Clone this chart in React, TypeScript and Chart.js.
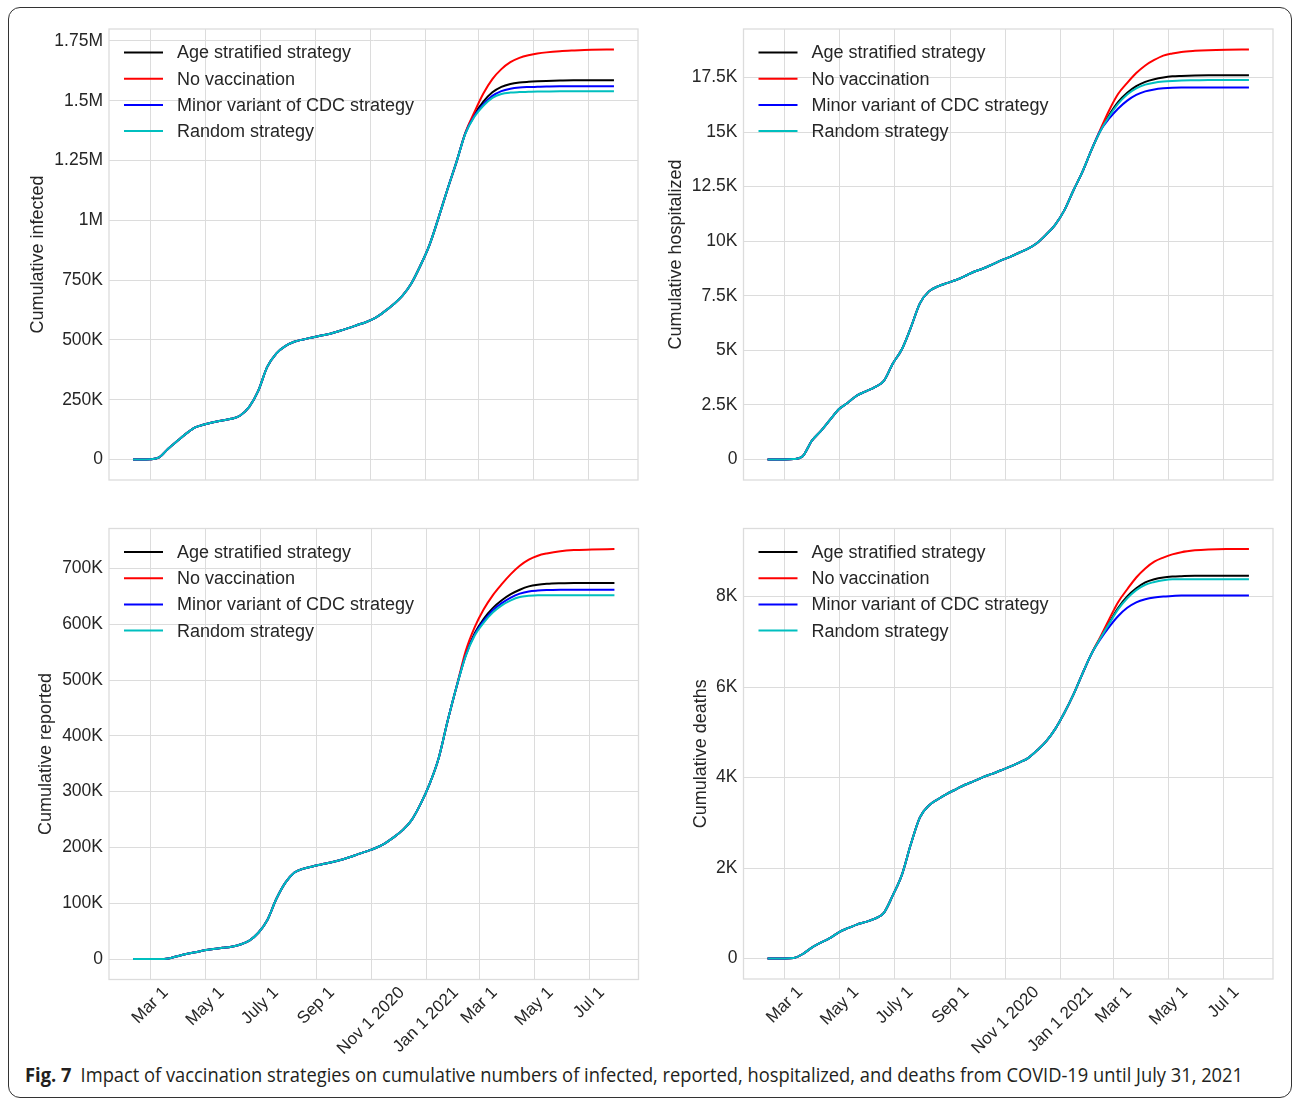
import React, { useEffect, useRef } from "react";
import { Chart, registerables } from "chart.js";

Chart.register(...registerables);

const FONT = '"Liberation Sans", Arial, Helvetica, sans-serif';
const TEXT = "#262626";
const GRID = "#dcdcdc";

// Day numbers counted from Jan 1 2020 (day 0)
const sharedDays = [41, 50, 60, 70, 80, 90, 100, 110, 120, 130, 140, 150, 160, 170, 180, 190, 200, 210, 220, 230, 240, 250, 260, 270, 280, 290, 300, 310, 320, 330, 340, 350, 360, 370, 380, 390, 400];
const tailDays = [410, 420, 430, 440, 450, 460, 470, 480, 490, 500, 515, 530, 550, 575];

const strategyLabels = ["Age stratified strategy", "No vaccination", "Minor variant of CDC strategy", "Random strategy"];
const strategyColors = ["#000000", "#ff0000", "#0000ff", "#00bfbf"];

const xTickDays = [60, 121, 182, 244, 305, 366, 425, 486, 547];
const xTickLabels = ["Mar 1", "May 1", "July 1", "Sep 1", "Nov 1 2020", "Jan 1 2021", "Mar 1", "May 1", "Jul 1"];

// Cumulative infected (thousands)
const infectedShared = [0, 0, 1, 9, 45, 77, 108, 134, 146, 156, 163, 170, 184, 220, 287, 387, 443, 474, 492, 502, 510, 518, 526, 537, 549, 562, 575, 592, 618, 648, 684, 736, 810, 895, 1008, 1128, 1242];
const infectedAge = [1364, 1442, 1496, 1535, 1558, 1570, 1576, 1579, 1581, 1582.5, 1584, 1585, 1585, 1585];
const infectedNone = [1366, 1452, 1530, 1590, 1632, 1661, 1679, 1690, 1697, 1702, 1707, 1710, 1713, 1714];
const infectedCdc = [1363, 1436, 1484, 1520, 1540, 1550, 1555, 1557, 1558, 1559, 1560, 1560, 1560, 1560];
const infectedRandom = [1362, 1433, 1479, 1512, 1528, 1534, 1536, 1537, 1538, 1538.5, 1539, 1539, 1539, 1539];
const infectedTicks = [0, 250, 500, 750, 1000, 1250, 1500, 1750];

// Cumulative hospitalized (thousands)
const hospShared = [0, 0, 0, 0.02, 0.15, 0.85, 1.3, 1.8, 2.3, 2.6, 2.93, 3.12, 3.32, 3.6, 4.4, 5.05, 6.05, 7.15, 7.7, 7.93, 8.08, 8.22, 8.4, 8.6, 8.75, 8.93, 9.12, 9.28, 9.47, 9.66, 9.92, 10.3, 10.75, 11.4, 12.3, 13.15, 14.15];
const hospAge = [15.05, 15.78, 16.38, 16.8, 17.1, 17.3, 17.42, 17.5, 17.55, 17.57, 17.59, 17.6, 17.6, 17.6];
const hospNone = [15.1, 16.0, 16.75, 17.25, 17.7, 18.05, 18.3, 18.5, 18.6, 18.67, 18.72, 18.75, 18.77, 18.78];
const hospCdc = [15.05, 15.62, 16.08, 16.44, 16.7, 16.86, 16.95, 17.0, 17.03, 17.04, 17.04, 17.04, 17.04, 17.04];
const hospRandom = [15.03, 15.72, 16.3, 16.72, 17.0, 17.17, 17.26, 17.31, 17.34, 17.36, 17.37, 17.38, 17.38, 17.38];
const hospTicks = [0, 2.5, 5, 7.5, 10, 12.5, 15, 17.5];

// Cumulative reported (thousands)
const reportedShared = [0, 0, 0, 0, 1, 5, 9, 12, 15.5, 18, 20, 22, 26, 33, 47, 70, 108, 137, 155, 162, 166, 169.5, 173, 177, 182, 187.5, 193, 199, 207, 218, 231, 249, 278, 314, 360, 427, 489];
const reportedAge = [545, 584, 610, 629, 643, 654, 662, 668, 671, 672.5, 673.5, 674, 674, 674];
const reportedNone = [552, 595, 627, 652, 672, 690, 705, 716, 723, 727, 731, 733, 734, 735];
const reportedCdc = [544, 582, 606, 625, 638, 648, 655, 659, 660.5, 661.3, 662, 662, 662, 662];
const reportedRandom = [543, 580, 603, 621, 634, 643, 649, 651, 652, 652, 652, 652, 652, 652];
const reportedTicks = [0, 100, 200, 300, 400, 500, 600, 700];

// Cumulative deaths (thousands)
const deathsShared = [0, 0, 0, 0.01, 0.1, 0.24, 0.35, 0.45, 0.58, 0.67, 0.75, 0.81, 0.88, 1.01, 1.4, 1.85, 2.53, 3.12, 3.38, 3.52, 3.64, 3.74, 3.84, 3.92, 4.01, 4.08, 4.16, 4.24, 4.33, 4.43, 4.6, 4.8, 5.07, 5.42, 5.82, 6.28, 6.72];
const deathsAge = [7.08, 7.42, 7.75, 8.0, 8.18, 8.31, 8.38, 8.42, 8.44, 8.45, 8.46, 8.46, 8.46, 8.46];
const deathsNone = [7.1, 7.5, 7.88, 8.16, 8.42, 8.62, 8.77, 8.86, 8.93, 8.98, 9.02, 9.04, 9.05, 9.05];
const deathsCdc = [7.05, 7.33, 7.57, 7.75, 7.87, 7.94, 7.98, 8.0, 8.01, 8.02, 8.02, 8.02, 8.02, 8.02];
const deathsRandom = [7.07, 7.4, 7.72, 7.96, 8.14, 8.26, 8.32, 8.36, 8.38, 8.38, 8.38, 8.38, 8.38, 8.38];
const deathsTicks = [0, 2, 4, 6, 8];

const fmtMK = (v: number) => (v === 0 ? "0" : v >= 1000 ? `${v / 1000}M` : `${v}K`);
const fmtK = (v: number) => (v === 0 ? "0" : `${v}K`);

type Rect = { left: number; top: number; width: number; height: number };
type Area = { left: number; top: number; right: number; bottom: number };

interface PanelProps {
  title: string;
  shared: number[];
  tails: number[][];
  yTicks: number[];
  fmt: (v: number) => string;
  showX: boolean;
  canvas: Rect;
  area: Area;
  titleX: number;
}

function Panel(p: PanelProps) {
  const ref = useRef<HTMLCanvasElement>(null);
  useEffect(() => {
    const el = ref.current!;
    const allDays = sharedDays.concat(tailDays);
    const all: number[] = [];
    const datasets = strategyLabels.map((label, i) => {
      const vals = p.shared.concat(p.tails[i]);
      all.push(...vals);
      return {
        label,
        data: allDays.map((d, j) => ({ x: d, y: vals[j] })),
        borderColor: strategyColors[i],
        backgroundColor: strategyColors[i],
        borderWidth: 2,
        pointRadius: 0,
        pointHoverRadius: 0,
        cubicInterpolationMode: "monotone",
        fill: false,
        order: strategyLabels.length - i,
      };
    });
    const vMax = Math.max(...all);
    const vMin = Math.min(...all);
    const ySpan = vMax - vMin;
    const dMin = allDays[0];
    const dMax = allDays[allDays.length - 1];
    const xSpan = dMax - dMin;
    const canvasRight = p.canvas.left + p.canvas.width;
    const canvasBottom = p.canvas.top + p.canvas.height;

    const decor = {
      id: "decor",
      beforeDatasetsDraw(chart: any) {
        const { ctx, chartArea: a } = chart;
        ctx.save();
        ctx.strokeStyle = GRID;
        ctx.lineWidth = 1.3;
        ctx.strokeRect(a.left, a.top, a.right - a.left, a.bottom - a.top);
        ctx.restore();
      },
      afterDatasetsDraw(chart: any) {
        const { ctx, chartArea: a } = chart;
        ctx.save();
        ctx.font = `18px ${FONT}`;
        ctx.textBaseline = "middle";
        ctx.textAlign = "left";
        chart.data.datasets.forEach((ds: any, i: number) => {
          const y = a.top + 23.5 + 26.2 * i;
          ctx.strokeStyle = ds.borderColor;
          ctx.lineWidth = 2;
          ctx.beginPath();
          ctx.moveTo(a.left + 15, y);
          ctx.lineTo(a.left + 54, y);
          ctx.stroke();
          ctx.fillStyle = TEXT;
          ctx.fillText(ds.label, a.left + 68, y + 1);
        });
        if (p.showX) {
          const xs = chart.scales.x;
          ctx.font = `17px ${FONT}`;
          ctx.textAlign = "center";
          ctx.fillStyle = TEXT;
          xTickDays.forEach((d, i) => {
            const label = xTickLabels[i];
            const w = ctx.measureText(label).width;
            const side = (w + 13) * Math.SQRT1_2;
            const cx = xs.getPixelForValue(d);
            const cy = a.bottom + 6 + side / 2;
            ctx.save();
            ctx.translate(cx, cy);
            ctx.rotate(-Math.PI / 4);
            ctx.fillText(label, 0, 0);
            ctx.restore();
          });
        }
        ctx.restore();
      },
    };

    const chart = new Chart(el, {
      type: "line",
      data: { datasets } as any,
      options: {
        animation: false,
        responsive: false,
        maintainAspectRatio: false,
        events: [],
        layout: {
          padding: {
            left: 0,
            top: p.area.top - p.canvas.top,
            right: canvasRight - p.area.right,
            bottom: 0,
          },
        },
        plugins: { legend: { display: false }, tooltip: { enabled: false } },
        scales: {
          x: {
            type: "linear",
            min: dMin - 0.05 * xSpan,
            max: dMax + 0.05 * xSpan,
            afterBuildTicks: (s: any) => {
              s.ticks = xTickDays.map((v) => ({ value: v }));
            },
            afterFit: (s: any) => {
              s.height = canvasBottom - p.area.bottom;
              s.paddingLeft = 0;
              s.paddingRight = 0;
            },
            ticks: { display: false },
            grid: { color: GRID, lineWidth: 1, drawTicks: false },
            border: { display: false },
          },
          y: {
            type: "linear",
            min: vMin - 0.05 * ySpan,
            max: vMax + 0.05 * ySpan,
            afterBuildTicks: (s: any) => {
              s.ticks = p.yTicks.map((v) => ({ value: v }));
            },
            afterFit: (s: any) => {
              s.width = p.area.left - p.canvas.left;
              s.paddingTop = 0;
              s.paddingBottom = 0;
            },
            ticks: {
              callback: (v: any) => p.fmt(Number(v)),
              font: { family: FONT, size: 17.5 },
              color: TEXT,
              padding: 6,
            },
            grid: { color: GRID, lineWidth: 1, drawTicks: false },
            border: { display: false },
            title: {
              display: true,
              text: p.title,
              font: { family: FONT, size: 18 },
              color: TEXT,
              padding: { top: p.titleX - p.canvas.left - 10.8, bottom: 0 },
            },
          },
        },
      } as any,
      plugins: [decor],
    });
    return () => chart.destroy();
  }, []);
  return (
    <canvas
      ref={ref}
      width={p.canvas.width}
      height={p.canvas.height}
      style={{ position: "absolute", left: p.canvas.left, top: p.canvas.top, width: p.canvas.width, height: p.canvas.height }}
    />
  );
}

function Caption() {
  const ref = useRef<HTMLDivElement>(null);
  useEffect(() => {
    const el = ref.current!;
    const w = el.getBoundingClientRect().width;
    el.style.transform = `scaleX(${1218 / w})`;
  }, []);
  return (
    <div
      ref={ref}
      style={{
        position: "absolute",
        left: 25,
        top: 1061,
        whiteSpace: "nowrap",
        fontFamily: '"Open Sans", "Noto Sans", sans-serif',
        fontSize: 20,
        lineHeight: "28px",
        color: "#231f20",
        transformOrigin: "0 0",
      }}
    >
      <b style={{ marginRight: 10 }}>Fig. 7</b>
      <span>Impact of vaccination strategies on cumulative numbers of infected, reported, hospitalized, and deaths from COVID-19 until July 31, 2021</span>
    </div>
  );
}

export default function App() {
  return (
    <div style={{ position: "absolute", left: 0, top: 0, width: 1295, height: 1098, background: "#fff", overflow: "hidden" }}>
      <div
        style={{
          position: "absolute",
          left: 8,
          top: 7,
          width: 1284,
          height: 1091,
          boxSizing: "border-box",
          border: "1px solid #333",
          borderRadius: 12,
        }}
      />
      <Panel
        title="Cumulative infected"
        shared={infectedShared}
        tails={[infectedAge, infectedNone, infectedCdc, infectedRandom]}
        yTicks={infectedTicks}
        fmt={fmtMK}
        showX={false}
        canvas={{ left: 10, top: 12, width: 632, height: 478 }}
        area={{ left: 109, top: 29, right: 638, bottom: 480 }}
        titleX={38}
      />
      <Panel
        title="Cumulative hospitalized"
        shared={hospShared}
        tails={[hospAge, hospNone, hospCdc, hospRandom]}
        yTicks={hospTicks}
        fmt={fmtK}
        showX={false}
        canvas={{ left: 645, top: 12, width: 640, height: 478 }}
        area={{ left: 743.5, top: 29, right: 1273, bottom: 480 }}
        titleX={676}
      />
      <Panel
        title="Cumulative reported"
        shared={reportedShared}
        tails={[reportedAge, reportedNone, reportedCdc, reportedRandom]}
        yTicks={reportedTicks}
        fmt={fmtK}
        showX={true}
        canvas={{ left: 10, top: 500, width: 632, height: 560 }}
        area={{ left: 109, top: 528.5, right: 638.5, bottom: 979.5 }}
        titleX={46}
      />
      <Panel
        title="Cumulative deaths"
        shared={deathsShared}
        tails={[deathsAge, deathsNone, deathsCdc, deathsRandom]}
        yTicks={deathsTicks}
        fmt={fmtK}
        showX={true}
        canvas={{ left: 645, top: 500, width: 640, height: 560 }}
        area={{ left: 743.5, top: 528.5, right: 1273, bottom: 979 }}
        titleX={701}
      />
      <Caption />
    </div>
  );
}
